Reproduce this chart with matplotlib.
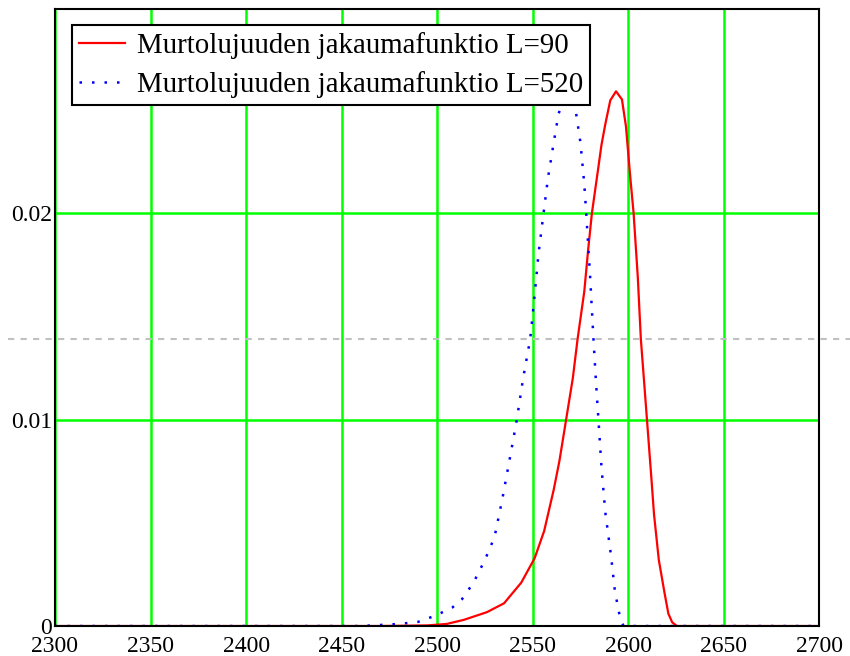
import matplotlib.pyplot as plt
import numpy as np

# values
x_l90 = [2300, 2470, 2495, 2505, 2514, 2526, 2535, 2544, 2551, 2556, 2561, 2564,
         2567.5, 2571, 2573.5, 2577, 2579, 2581, 2584.5, 2586, 2588, 2590.6, 2593.6,
         2596.7, 2598.8, 2601, 2602.8, 2605, 2606.6, 2609.8, 2612, 2613.5, 2616,
         2619, 2621, 2623, 2625.5, 2700]
y_l90 = [0, 0, 0.00003, 0.0001, 0.0003, 0.00067, 0.0011, 0.0021, 0.00328, 0.0046,
         0.0066, 0.0080, 0.0100, 0.0120, 0.0139, 0.0162, 0.0182, 0.0200, 0.0223,
         0.0233, 0.0243, 0.02545, 0.02589, 0.0255, 0.0242, 0.0218, 0.0200, 0.0169,
         0.0139, 0.0100, 0.0073, 0.0054, 0.0032, 0.0016, 0.0006, 0.00018, 0, 0]

x_l520 = [2300, 2460, 2470, 2480, 2490, 2499, 2508, 2513, 2519, 2525, 2530, 2534,
          2538, 2541.7, 2545, 2548.7, 2551, 2553, 2555.7, 2558, 2561, 2563.5, 2566,
          2568, 2570, 2572.6, 2575, 2577, 2578, 2580, 2581.8, 2583, 2584.4, 2586,
          2588, 2591, 2593, 2595.5, 2597.5, 2700]
y_l520 = [0, 0, 0.00005, 0.0001, 0.0002, 0.0005, 0.0009, 0.0013, 0.0021, 0.0032,
          0.0043, 0.0061, 0.0081, 0.0100, 0.0120, 0.0139, 0.0160, 0.0180, 0.0200,
          0.0217, 0.0234, 0.0248, 0.0254, 0.0256, 0.0254, 0.0249, 0.0234, 0.0214,
          0.0200, 0.0170, 0.0139, 0.0120, 0.0100, 0.0077, 0.0055, 0.0034, 0.0017,
          0.0005, 0, 0]

x_ticks = [2300, 2350, 2400, 2450, 2500, 2550, 2600, 2650, 2700]
y_ticks = [0, 0.01, 0.02]
y_tick_labels = ["0", "0.01", "0.02"]
marker_y = 0.0139

labels = ["Murtolujuuden jakaumafunktio L=90", "Murtolujuuden jakaumafunktio L=520"]

plt.rcParams['font.family'] = ['Liberation Serif', 'DejaVu Serif']

fig = plt.figure(figsize=(8.5, 6.56), dpi=100)
ax = fig.add_axes([0.0647, 0.0457, 0.8992, 0.9413])

ax.set_xlim(2300, 2700)
ax.set_ylim(0, 0.0299)
ax.set_xticks(x_ticks)
ax.set_yticks(y_ticks)
ax.set_yticklabels(y_tick_labels)
ax.tick_params(length=0, labelsize=17)
ax.tick_params(axis="x", pad=7)
ax.tick_params(axis="y", pad=2)
ax.grid(True, color="#00ff00", linewidth=1.8)
ax.set_axisbelow(True)
for s in ax.spines.values():
    s.set_linewidth(1.5)

ax.axhline(marker_y, xmin=-0.061, xmax=1.05, color="#c0c0c0", linestyle=(0, (3, 3)),
           linewidth=1.5, clip_on=False)

ax.plot(x_l90, y_l90, color="red", linewidth=1.6, label=labels[0])
ax.plot(x_l520, y_l520, color="blue", linewidth=1.8, linestyle=(0, (1, 4)), label=labels[1])

leg = ax.legend(loc="upper left", bbox_to_anchor=(0.022, 0.973), borderaxespad=0,
                fontsize=20.8, fancybox=False, framealpha=1, edgecolor="black",
                handlelength=1.6, handletextpad=0.4, borderpad=0.24, labelspacing=0.4)
leg.get_frame().set_linewidth(1.5)

fig.savefig("out.png", dpi=100)
